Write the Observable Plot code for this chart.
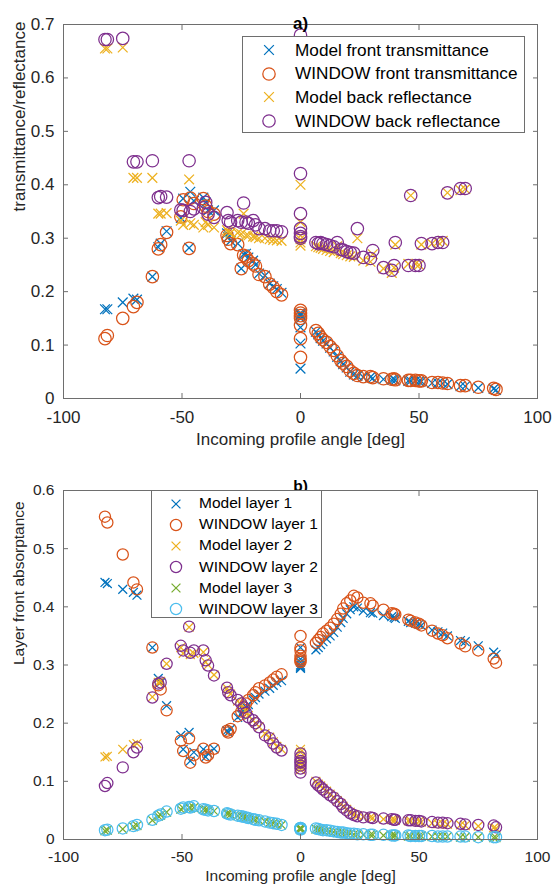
<!DOCTYPE html>
<html><head><meta charset="utf-8">
<script src="https://cdn.jsdelivr.net/npm/d3@7"></script>
<script src="https://cdn.jsdelivr.net/npm/@observablehq/plot@0.6"></script>
<style>
body{margin:0;background:#fff;}
#wrap{position:relative;width:552px;height:888px;font-family:"Liberation Sans",Arial,Helvetica,sans-serif;color:#262626;}
.panel{position:relative;width:552px;}
.legend{position:absolute;background:#fff;border:1px solid #6e6e6e;box-sizing:border-box;}
.legend svg{position:absolute;overflow:visible;}
.legend span{position:absolute;white-space:nowrap;}
</style></head><body><div id="wrap"></div><script>
// shared incoming profile angles [deg]
const angles = [-82.5,-81.5,-75,-70.5,-69,-62.5,-60,-59,-56.5,-50.5,-49.5,-47,-46.5,-45,-41,-40,-39,-36.5,-31,-30.5,-29.5,-26.5,-25,-24,-23,-22,-20,-19,-17.5,-15,-13,-11.5,-10,-8,
0,0,0,0,0,0,0,
6.5,7.5,8.5,9.5,11,12.5,14,15.5,17,18,19.5,21,22.5,24,26.5,29.5,30.5,35,38.5,39.5,40,45.5,46.5,48.5,50,51,55.5,58,60,62,67.5,69.5,75,81.5,82.5];

// panel a
const modelFrontT = [0.167,0.167,0.180,0.187,0.185,0.228,0.283,0.290,0.313,0.338,0.374,0.282,0.387,0.370,0.376,0.367,0.352,0.352,0.309,0.302,0.295,0.290,0.243,0.270,0.271,0.264,0.258,0.250,0.234,0.230,0.215,0.210,0.205,0.198,
0.160,0.157,0.155,0.150,0.133,0.103,0.056,
0.125,0.120,0.113,0.108,0.103,0.095,0.088,0.078,0.070,0.064,0.058,0.050,0.045,0.042,0.040,0.040,0.038,0.036,0.035,0.036,0.034,0.033,0.033,0.033,0.032,0.032,0.029,0.029,0.028,0.027,0.023,0.023,0.020,0.018,0.016];
const windowFrontT = [0.112,0.118,0.150,0.172,0.180,0.228,0.280,0.288,0.311,0.340,0.372,0.281,0.375,0.365,0.374,0.360,0.350,0.345,0.305,0.298,0.290,0.288,0.243,0.268,0.265,0.258,0.252,0.248,0.232,0.228,0.214,0.208,0.200,0.194,
0.165,0.160,0.155,0.150,0.137,0.112,0.077,
0.127,0.122,0.115,0.110,0.105,0.097,0.090,0.080,0.071,0.066,0.060,0.052,0.047,0.043,0.041,0.041,0.039,0.037,0.036,0.037,0.035,0.034,0.034,0.034,0.033,0.033,0.030,0.030,0.029,0.028,0.024,0.024,0.021,0.019,0.017];
const modelBackR = [0.655,0.655,0.657,0.413,0.413,0.413,0.346,0.346,0.347,0.333,0.325,0.410,0.328,0.325,0.320,0.330,0.325,0.320,0.315,0.312,0.310,0.310,0.308,0.346,0.305,0.305,0.303,0.302,0.300,0.300,0.298,0.297,0.296,0.295,
0.662,0.400,0.330,0.305,0.298,0.292,0.286,
0.285,0.283,0.282,0.280,0.278,0.276,0.274,0.285,0.272,0.270,0.268,0.266,0.265,0.300,0.258,0.256,0.270,0.243,0.235,0.245,0.288,0.252,0.380,0.252,0.250,0.288,0.290,0.293,0.295,0.385,0.390,0.392,null,null,null];
const windowBackR = [0.672,0.672,0.674,0.443,0.443,0.445,0.376,0.378,0.377,0.353,0.352,0.445,0.350,0.355,0.357,0.367,0.345,0.339,0.348,0.333,0.330,0.333,0.330,0.366,0.330,0.328,0.333,0.325,0.318,0.318,0.314,0.314,0.314,0.312,
0.680,0.421,0.346,0.318,0.309,0.303,0.300,
0.292,0.290,0.292,0.290,0.288,0.286,0.284,0.292,0.279,0.278,0.275,0.273,0.272,0.318,0.264,0.262,0.277,0.245,0.240,0.249,0.292,0.249,0.380,0.249,0.249,0.290,0.290,0.292,0.292,0.385,0.393,0.393,null,null,null];

// panel b
const modelLayer1 = [0.442,0.440,0.430,0.425,0.420,0.330,0.277,0.270,0.230,0.179,0.155,0.184,0.135,0.150,0.155,0.142,0.148,0.156,0.187,0.184,0.190,0.210,0.215,0.222,0.228,0.232,0.240,0.244,0.250,0.255,0.260,0.265,0.270,0.273,
0.330,0.310,0.305,0.300,0.298,0.296,0.294,
0.326,0.330,0.335,0.340,0.345,0.350,0.356,0.365,0.373,0.380,0.388,0.395,0.400,0.398,0.393,0.390,0.389,0.385,0.383,0.382,0.380,0.375,0.373,0.372,0.370,0.368,0.360,0.357,0.355,0.350,0.342,0.340,0.333,0.322,0.318];
const windowLayer1 = [0.555,0.545,0.490,0.442,0.430,0.330,0.265,0.258,0.222,0.170,0.152,0.174,0.132,0.145,0.156,0.141,0.145,0.156,0.187,0.184,0.190,0.212,0.220,0.228,0.234,0.240,0.248,0.253,0.260,0.265,0.270,0.275,0.280,0.284,
0.350,0.330,0.325,0.316,0.311,0.308,0.305,
0.338,0.343,0.348,0.354,0.359,0.364,0.371,0.379,0.388,0.397,0.406,0.411,0.419,0.416,0.407,0.406,0.402,0.395,0.389,0.388,0.387,0.378,0.376,0.373,0.371,0.368,0.359,0.354,0.351,0.346,0.337,0.332,0.325,0.311,0.304];
const modelLayer2 = [0.142,0.143,0.155,0.163,0.165,0.245,0.270,0.272,0.302,0.330,0.320,0.365,0.318,0.320,0.322,0.305,0.300,0.283,0.260,0.255,0.250,0.238,0.232,0.226,0.220,0.213,0.205,0.200,0.194,0.182,0.176,0.168,0.160,0.155,
0.155,0.150,0.140,0.135,0.130,0.125,0.120,
0.100,0.095,0.092,0.088,0.083,0.078,0.073,0.067,0.062,0.057,0.052,0.047,0.043,0.041,0.039,0.038,0.037,0.035,0.034,0.034,0.033,0.032,0.032,0.031,0.031,0.030,0.028,0.027,0.027,0.026,0.025,0.024,0.023,0.020,0.019];
const windowLayer2 = [0.092,0.097,0.124,0.150,0.158,0.244,0.268,0.270,0.302,0.333,0.325,0.366,0.321,0.325,0.325,0.308,0.299,0.282,0.261,0.253,0.248,0.240,0.234,0.227,0.218,0.210,0.205,0.200,0.193,0.179,0.174,0.165,0.158,0.153,
0.148,0.141,0.135,0.132,0.127,0.122,0.115,
0.098,0.093,0.090,0.086,0.081,0.076,0.072,0.066,0.061,0.055,0.050,0.045,0.042,0.040,0.038,0.038,0.037,0.036,0.035,0.034,0.034,0.033,0.033,0.032,0.032,0.031,0.030,0.029,0.029,0.028,0.027,0.026,0.025,0.024,0.021];
const modelLayer3 = [0.015,0.016,0.018,0.022,0.024,0.033,0.040,0.042,0.047,0.052,0.054,0.055,0.054,0.055,0.052,0.051,0.050,0.049,0.045,0.044,0.043,0.041,0.040,0.039,0.038,0.037,0.035,0.034,0.033,0.031,0.029,0.028,0.026,0.025,
0.020,0.020,0.019,0.019,0.018,0.018,0.017,
0.018,0.017,0.017,0.016,0.015,0.014,0.013,0.012,0.012,0.011,0.010,0.010,0.009,0.009,0.008,0.008,0.008,0.007,0.007,0.007,0.007,0.006,0.006,0.006,0.006,0.006,0.005,0.005,0.005,0.005,0.004,0.004,0.004,0.003,0.003];
const windowLayer3 = [0.016,0.017,0.019,0.023,0.025,0.034,0.041,0.043,0.048,0.053,0.055,0.056,0.055,0.057,0.052,0.051,0.050,0.049,0.045,0.044,0.043,0.041,0.040,0.039,0.038,0.037,0.035,0.034,0.033,0.031,0.029,0.028,0.027,0.025,
0.020,0.020,0.019,0.019,0.018,0.018,0.017,
0.019,0.018,0.017,0.016,0.016,0.015,0.014,0.013,0.012,0.012,0.011,0.010,0.010,0.009,0.009,0.008,0.008,0.008,0.007,0.007,0.007,0.007,0.006,0.006,0.006,0.006,0.006,0.005,0.005,0.005,0.005,0.005,0.004,0.004,0.004];

const xTicks = [-100,-50,0,50,100];
const yTicksA = [0,0.1,0.2,0.3,0.4,0.5,0.6,0.7];
const yTicksB = [0,0.1,0.2,0.3,0.4,0.5,0.6];

const seriesA = [
  {label:"Model front transmittance", values:modelFrontT, color:"#0072BD", symbol:"times"},
  {label:"WINDOW front transmittance", values:windowFrontT, color:"#D95319", symbol:"circle"},
  {label:"Model back reflectance", values:modelBackR, color:"#EDB120", symbol:"times"},
  {label:"WINDOW back reflectance", values:windowBackR, color:"#7E2F8E", symbol:"circle"}
];
const seriesB = [
  {label:"Model layer 1", values:modelLayer1, color:"#0072BD", symbol:"times"},
  {label:"WINDOW layer 1", values:windowLayer1, color:"#D95319", symbol:"circle"},
  {label:"Model layer 2", values:modelLayer2, color:"#EDB120", symbol:"times"},
  {label:"WINDOW layer 2", values:windowLayer2, color:"#7E2F8E", symbol:"circle"},
  {label:"Model layer 3", values:modelLayer3, color:"#77AC30", symbol:"times"},
  {label:"WINDOW layer 3", values:windowLayer3, color:"#4DBEEE", symbol:"circle"}
];

const AX = "#6e6e6e";
const FONT = '"Liberation Sans",Arial,Helvetica,sans-serif';

function rows(s){ return angles.map((a,i)=>({x:a, y:s.values[i]})).filter(d=>d.y!=null); }

function seriesMarks(series, rc, rt){
  return series.map(s => Plot.dot(rows(s), {
    x:"x", y:"y", symbol:s.symbol, stroke:s.color, fill:"none",
    r: s.symbol==="circle" ? rc : rt, strokeWidth:1.25
  }));
}

function axes(yTicks, xPad){
  return [
    Plot.axisX(xTicks, {anchor:"bottom", tickSize:-5, tickPadding:xPad, tickFormat:d=>String(d), label:null, stroke:AX, fill:"#262626"}),
    Plot.axisX(xTicks, {anchor:"top", tickSize:-5, tickFormat:()=>"", label:null, stroke:AX}),
    Plot.axisY(yTicks, {anchor:"left", tickSize:-5, tickPadding:14, tickFormat:d=>String(d), label:null, stroke:AX, fill:"#262626"}),
    Plot.axisY(yTicks, {anchor:"right", tickSize:-5, tickFormat:()=>"", label:null, stroke:AX}),
    Plot.frame({stroke:AX, strokeWidth:1})
  ];
}

function makePanel({series, yDomain, yTicks, height, marginTop, marginBottom, title, titleDy, ylabel, fs, xPad, xlabDy, rc, rt}){
  return Plot.plot({
    width:552, height,
    marginTop, marginBottom, marginLeft:63, marginRight:15,
    x:{domain:[-100,100]},
    y:{domain:yDomain},
    style:{fontFamily:FONT, fontSize:fs+"px", color:"#262626", background:"#fff", overflow:"visible"},
    marks:[
      ...seriesMarks(series, rc, rt),
      ...axes(yTicks, xPad),
      Plot.text([title], {text:d=>d, frameAnchor:"top", dy:titleDy, fontWeight:"bold", fontSize:fs, fill:"#000"}),
      Plot.text([ylabel], {text:d=>d, frameAnchor:"left", dx:-44, rotate:-90, fontSize:fs, fill:"#262626"}),
      Plot.text(["Incoming profile angle [deg]"], {text:d=>d, frameAnchor:"bottom", dy:xlabDy, fontSize:fs, fill:"#262626"})
    ]
  });
}

function markerSvg(s, rc, rt){
  const ns="http://www.w3.org/2000/svg";
  const svg=document.createElementNS(ns,"svg");
  svg.setAttribute("width","20"); svg.setAttribute("height","20");
  const g=document.createElementNS(ns,"path");
  const d = s.symbol==="circle"
    ? d3.symbol(d3.symbolCircle, Math.PI*rc*rc)()
    : d3.symbol(d3.symbolTimes, Math.PI*rt*rt)();
  g.setAttribute("d", d); g.setAttribute("transform","translate(10,10)");
  g.setAttribute("fill","none"); g.setAttribute("stroke", s.color); g.setAttribute("stroke-width","1.25");
  svg.appendChild(g);
  return svg;
}

function makeLegend(series, {left, top, width, height, first, step, markerX, textX, fontSize, rc, rt}){
  const box=document.createElement("div");
  box.className="legend";
  Object.assign(box.style,{left:left+"px", top:top+"px", width:width+"px", height:height+"px"});
  series.forEach((s,i)=>{
    const cy = first + i*step;
    const m = markerSvg(s, rc, rt);
    m.style.left=(markerX-10)+"px"; m.style.top=(cy-10)+"px";
    box.appendChild(m);
    const t=document.createElement("span");
    t.textContent=s.label;
    Object.assign(t.style,{left:textX+"px", top:(cy - fontSize*0.6)+"px", fontSize:fontSize+"px", lineHeight:(fontSize*1.2)+"px", color:"#000"});
    box.appendChild(t);
  });
  return box;
}

const wrap=document.getElementById("wrap");
const pa=document.createElement("div"); pa.className="panel"; pa.style.height="456px";
pa.appendChild(makePanel({series:seriesA, yDomain:[0,0.7], yTicks:yTicksA, height:456, marginTop:24, marginBottom:58,
  title:"a)", titleDy:-8, ylabel:"transmittance/reflectance", fs:17, xPad:17.5, xlabDy:46, rc:6.2, rt:4.5}));
pa.appendChild(makeLegend(seriesA, {left:242, top:36, width:283, height:97, first:13, step:23.7, markerX:26, textX:52, fontSize:17.2, rc:6.2, rt:4.5}));
wrap.appendChild(pa);
const pb=document.createElement("div"); pb.className="panel"; pb.style.height="432px";
pb.appendChild(makePanel({series:seriesB, yDomain:[0,0.6], yTicks:yTicksB, height:432, marginTop:34, marginBottom:49,
  title:"b)", titleDy:-11, ylabel:"Layer front absorptance", fs:15.5, xPad:16, xlabDy:41, rc:5.6, rt:4.1}));
pb.appendChild(makeLegend(seriesB, {left:151, top:34, width:171, height:128, first:12.5, step:21.1, markerX:24, textX:47, fontSize:15.5, rc:5.6, rt:4.1}));
wrap.appendChild(pb);
</script></body></html>
